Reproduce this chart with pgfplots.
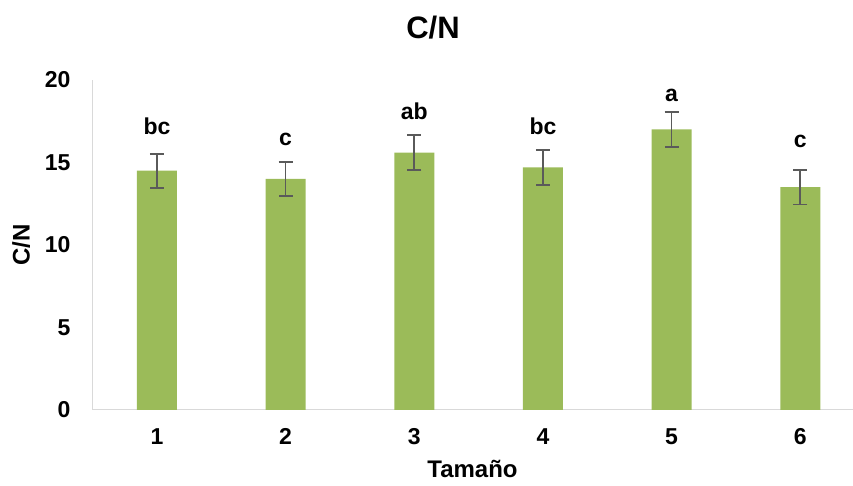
\documentclass[border=0pt]{standalone}
\usepackage{fontspec}
\setmainfont{Liberation Sans}
\usepackage{pgfplots}
\pgfplotsset{compat=1.18}
\definecolor{barg}{HTML}{9BBB59}
\definecolor{axg}{HTML}{D9D9D9}
\definecolor{errg}{HTML}{5A5A5A}
\pgfplotstableread{
x y e
1 14.5 1.03
2 14.0 1.05
3 15.6 1.05
4 14.7 1.05
5 17.0 1.05
6 13.5 1.05
}\datatab
\pgfplotstableread{
x y l
1 16.67 bc
2 16.06 c
3 17.60 ab
4 16.67 bc
5 18.70 a
6 15.90 c
}\labtab
\begin{document}
\begin{tikzpicture}[x=1pt,y=1pt]
\useasboundingbox (0,0) rectangle (853,486);
\node[font=\fontsize{31}{33}\selectfont\bfseries] at (433,458) {C/N};
\begin{axis}[
  at={(92pt,76pt)}, anchor=south west,
  scale only axis, width=761pt, height=330pt,
  xmin=0.495, xmax=6.41, ymin=0, ymax=20,
  axis x line*=bottom, axis y line*=left,
  axis line style={axg, line width=1pt},
  xtick={1,2,3,4,5,6}, ytick={0,5,10,15,20},
  major tick length=0pt,
  /pgf/number format/assume math mode=true,
  tick label style={font=\fontsize{23}{25}\selectfont\bfseries},
  yticklabel style={xshift=-18pt},
  xticklabel style={yshift=-15pt},
  xlabel={Tamaño},
  xlabel style={font=\fontsize{24}{26}\selectfont\bfseries, yshift=-11pt, inner sep=1pt},
  ylabel={C/N},
  ylabel style={font=\fontsize{24}{26}\selectfont\bfseries, yshift=8pt},
  clip=false,
]
\addplot[ybar, bar width=40pt, fill=barg, draw=none,
  error bars/.cd, y dir=both, y explicit,
  error bar style={errg, line width=1.7pt},
  error mark options={rotate=90, mark size=7pt, errg, line width=1.7pt}]
  table[x=x, y=y, y error=e] {\datatab};
\addplot[draw=none, mark=none, nodes near coords, point meta=explicit symbolic,
  nodes near coords style={anchor=base, inner sep=0pt, font=\fontsize{23}{25}\selectfont\bfseries}]
  table[x=x, y=y, meta=l] {\labtab};
\end{axis}
\end{tikzpicture}
\end{document}
